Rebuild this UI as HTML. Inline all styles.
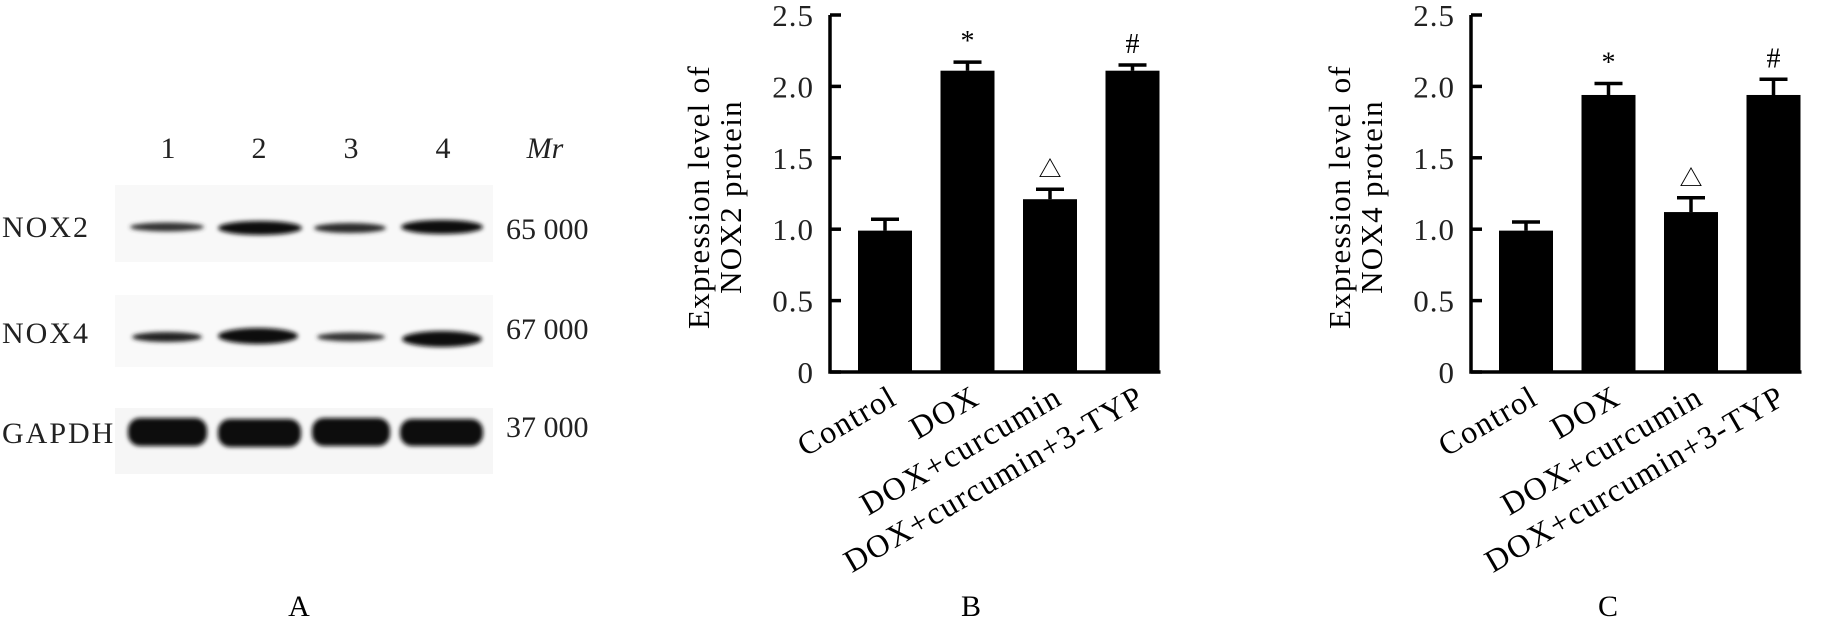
<!DOCTYPE html>
<html><head><meta charset="utf-8">
<style>
html,body{margin:0;padding:0;background:#fff;}
svg{display:block;font-family:"Liberation Serif","Noto Serif CJK SC",serif;}
</style></head>
<body>
<svg id="fig" width="1821" height="628" viewBox="0 0 1821 628" xmlns="http://www.w3.org/2000/svg">
<defs>
<filter id="blur" x="-20%" y="-50%" width="140%" height="200%"><feGaussianBlur stdDeviation="2.2"/></filter>
</defs>
<g id="panelA">
  <g font-size="30" fill="#222">
    <text x="168" y="158" text-anchor="middle">1</text>
    <text x="259" y="158" text-anchor="middle">2</text>
    <text x="351" y="158" text-anchor="middle">3</text>
    <text x="443" y="158" text-anchor="middle">4</text>
    <text x="545" y="158" text-anchor="middle" font-style="italic">Mr</text>
  </g>
  <rect x="115" y="185" width="378" height="77" fill="#f8f8f8"/>
  <rect x="115" y="295" width="378" height="72" fill="#f9f9f9"/>
  <rect x="115" y="408" width="378" height="66" fill="#f6f6f6"/>
  <g filter="url(#blur)" fill="#111">
    <ellipse cx="167" cy="227" rx="37" ry="4.5" fill="#333"/>
    <ellipse cx="260" cy="228" rx="42" ry="7"/>
    <ellipse cx="350" cy="228" rx="36" ry="5" fill="#2a2a2a"/>
    <ellipse cx="442" cy="227" rx="41" ry="7"/>
    <ellipse cx="167" cy="337" rx="35" ry="5" fill="#222"/>
    <ellipse cx="258" cy="336" rx="40" ry="8"/>
    <ellipse cx="351" cy="337" rx="34" ry="4.5" fill="#333"/>
    <ellipse cx="442" cy="339" rx="40" ry="8"/>
    <rect x="128" y="418" width="79" height="28" rx="12"/>
    <rect x="218" y="419" width="83" height="28" rx="12"/>
    <rect x="312" y="418" width="78" height="28" rx="12"/>
    <rect x="400" y="419" width="83" height="27" rx="12"/>
  </g>
  <g font-size="30" fill="#222" letter-spacing="2">
    <text x="2" y="237">NOX2</text>
    <text x="2" y="343">NOX4</text>
    <text x="2" y="443">GAPDH</text>
  </g>
  <g font-size="30" fill="#222">
    <text x="506" y="239">65 000</text>
    <text x="506" y="339">67 000</text>
    <text x="506" y="437">37 000</text>
  </g>
  <text x="299" y="616" font-size="30" text-anchor="middle">A</text>
</g>
<g id="chartB"></g>
<g id="chartC"></g>
<text x="971" y="616" font-size="30" text-anchor="middle">B</text>
<text x="1608" y="616" font-size="30" text-anchor="middle">C</text>
</svg>
<script>
const categories = ["Control", "DOX", "DOX+curcumin", "DOX+curcumin+3-TYP"];
const nox2Values = [0.99, 2.11, 1.21, 2.11];
const nox2Errors = [0.08, 0.06, 0.07, 0.04];
const nox4Values = [0.99, 1.94, 1.12, 1.94];
const nox4Errors = [0.06, 0.08, 0.10, 0.11];
const markers = ["", "*", "\u25B3", "#"];
const yTicks = [0, 0.5, 1.0, 1.5, 2.0, 2.5];
const yTickLabels = ["0", "0.5", "1.0", "1.5", "2.0", "2.5"];

const NS = "http://www.w3.org/2000/svg";
function mk(tag, attrs, parent){
  const e = document.createElementNS(NS, tag);
  for (const k in attrs) e.setAttribute(k, attrs[k]);
  parent.appendChild(e);
  return e;
}
function drawChart(gid, axisX, values, errors, titleLines, titleX, prefix){
  const g = document.getElementById(gid);
  const yTop = 15, yBot = 372, yMax = 2.5;
  const yScale = v => yBot - v / yMax * (yBot - yTop);
  const firstBar = axisX + 28, step = 82.5, barW = 54;
  const xScale = i => firstBar + i * step;
  const endX = xScale(categories.length - 1) + barW + 1;
  values.forEach((v, i) => {
    const x = xScale(i), cx = x + barW / 2;
    const r = mk("rect", {x: x, y: yScale(v), width: barW, height: yBot - yScale(v), fill: "#000"}, g);
    
    
    const te = yScale(v + errors[i]);
    const l = mk("path", {d: `M${cx},${yScale(v)}V${te}M${cx-14},${te}H${cx+14}`, stroke: "#000", "stroke-width": 3.5, fill: "none"}, g);
    
    
    if (markers[i]) {
      const t = mk("text", {x: cx, y: te - 12, "text-anchor": "middle", "font-size": markers[i] === "\u25B3" ? 23 : 28}, g);
      t.textContent = markers[i];
      
      
    }
    const lab = mk("text", {x: 0, y: 0, "text-anchor": "end", "font-size": 32, "letter-spacing": 1.5,
      transform: `translate(${cx + 14},${yBot + 31}) rotate(-30)`}, g);
    lab.textContent = categories[i];
    
    
  });
  const ax = mk("path", {d: `M${axisX},${yTop}V${yBot}H${endX}`, stroke: "#000", "stroke-width": 3.5, fill: "none"}, g);
  
  
  yTicks.forEach((t, i) => {
    const y = yScale(t);
    const tk = mk("line", {x1: axisX, x2: axisX + 11, y1: y, y2: y, stroke: "#000", "stroke-width": 3.5}, g);
    
    
    const tl = mk("text", {x: axisX - 16, y: y + 11, "text-anchor": "end", "font-size": 31, "letter-spacing": 1, fill: "#222"}, g);
    tl.textContent = yTickLabels[i];
    
    
  });
  titleLines.forEach((s, i) => {
    const tt = mk("text", {x: 0, y: 0, "text-anchor": "middle", "font-size": 31, "letter-spacing": 1.3,
      transform: `translate(${titleX + i * 32 + 10},197) rotate(-90)`}, g);
    tt.textContent = s;
    
    
  });
}
drawChart("chartB", 830, nox2Values, nox2Errors, ["Expression level of", "NOX2 protein"], 699, "nox2");
drawChart("chartC", 1471, nox4Values, nox4Errors, ["Expression level of", "NOX4 protein"], 1340, "nox4");
</script>
</body></html>
